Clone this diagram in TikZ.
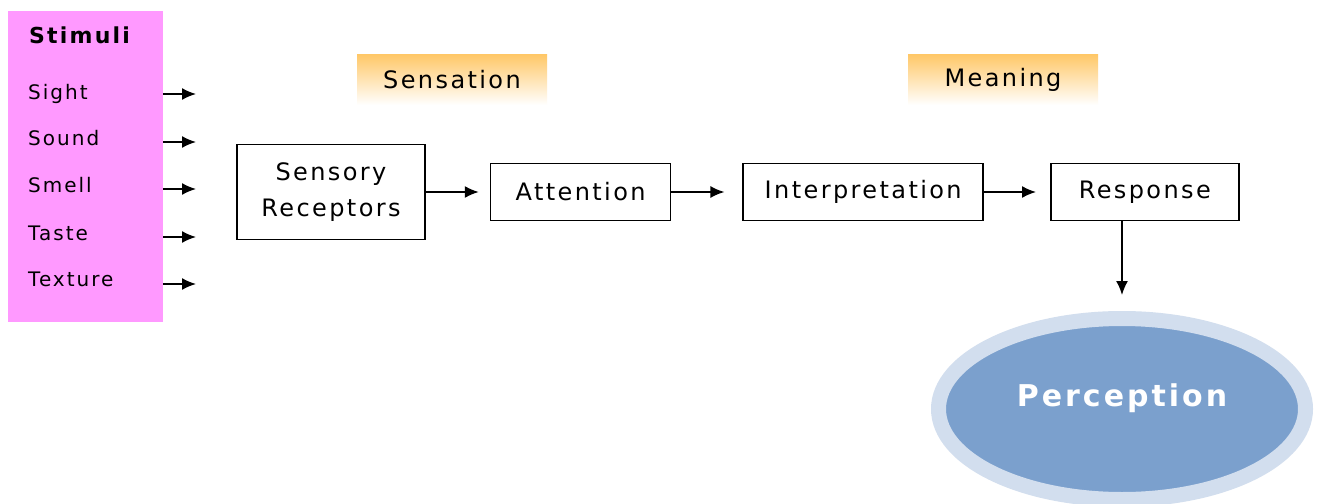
\documentclass[tikz,border=0pt]{standalone}
\usepackage{fontspec}
\setmainfont{DejaVu Sans}[LetterSpace=10]
\usetikzlibrary{positioning,arrows.meta,shapes.geometric}
\definecolor{stimpink}{RGB}{255,153,255}
\definecolor{headorange}{RGB}{255,200,105}
\definecolor{percblue}{RGB}{123,160,205}
\definecolor{percring}{RGB}{210,222,238}
\tikzset{%
stage/.style={draw,rectangle,line width=1.6pt,minimum height=57pt,inner sep=2pt,font=\fontsize{24}{36}\selectfont,align=center},
header/.style={rectangle,minimum width=190pt,minimum height=50pt,top color=headorange,bottom color=white,font=\fontsize{24}{28}\selectfont},
sense/.style={anchor=base west,inner sep=0,font=\fontsize{20}{24}\selectfont},
flow/.style={-{Latex[length=14pt,width=12pt]},line width=1.6pt}
}
\begin{document}
\begin{tikzpicture}[x=1pt,y=-1pt]
    \path[use as bounding box,fill=white] (0,0) rectangle (1319,503);

    % stimuli column
    \node[fill=stimpink,minimum width=155pt,minimum height=311pt,anchor=north west,inner sep=0] (stimuli) at (8,11) {};
    \node[anchor=west,inner sep=0,font=\bfseries\fontsize{22}{26}\selectfont] (title) at (29,35) {Stimuli};
    \foreach \s/\y/\a in {Sight/99/94,Sound/145/142,Smell/192/189,Taste/240/237,Texture/286/284}{
      \node[sense] (\s) at (28,\y) {\s};
      \coordinate (\s-in) at (196,\a);
      \draw[flow] (stimuli.east |- \s-in) -- (\s-in);
    }

    % stages
    \node[stage,minimum width=188pt,minimum height=95pt] (receptors) at (331,192) {Sensory\\Receptors};
    \node[stage,minimum width=180pt,right=64pt of receptors] (attention) {Attention};
    \node[stage,minimum width=240pt,right=71pt of attention] (interpretation) {Interpretation};
    \node[stage,minimum width=188pt,right=66pt of interpretation] (response) {Response};

    \draw[flow,shorten >=11pt] (receptors) -- (attention);
    \draw[flow,shorten >=18pt] (attention) -- (interpretation);
    \draw[flow,shorten >=14pt] (interpretation) -- (response);

    % headers
    \node[header] (sensation) at (452,80) {Sensation};
    \node[header] (meaning) at (1003,80) {Meaning};

    % result
    \node[ellipse,fill=percblue,draw=percring,line width=15pt,minimum width=367pt,minimum height=181pt,inner sep=0] (perception) at (1122,409) {};
    \node[text=white,font=\bfseries\fontsize{30}{34}\selectfont] (perclabel) at ([yshift=11pt]perception.center) {Perception};
    \draw[flow,shorten >=16pt] (perception.north |- response.south) -- (perception.north);

\end{tikzpicture}
\end{document}
